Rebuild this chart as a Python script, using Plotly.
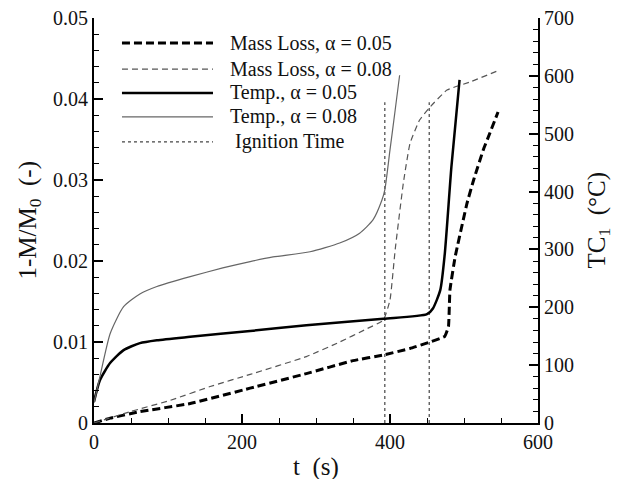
import plotly.graph_objects as go

# ---- data ----
t_temp08 = [0, 8, 22, 40, 62, 85, 130, 174, 211, 242, 292, 332, 359, 377, 389, 393, 400, 407, 413]
temp08 = [35, 80, 155, 201, 223, 236, 253, 268, 279, 287, 296, 311, 328, 351, 385, 403, 472, 541, 601]

t_temp05 = [0, 8, 22, 40, 62, 85, 130, 211, 287, 391, 450, 458, 468, 474, 483, 494]
temp05 = [37, 74, 104, 126, 138, 143, 149, 159, 169, 180, 188, 198, 230, 292, 443, 593]

t_mass08 = [0, 49, 103, 157, 211, 287, 332, 368, 391, 400, 407, 418, 427, 440, 454, 477, 508, 549]
mass08 = [0, 0.0014, 0.0028, 0.0045, 0.0060, 0.0082, 0.0100, 0.0116, 0.0127, 0.0152,
          0.0214, 0.0296, 0.0345, 0.0374, 0.0390, 0.0411, 0.0421, 0.0436]

t_mass05 = [0, 22, 62, 130, 211, 287, 350, 391, 427, 454, 474, 479, 481, 488, 504, 513, 526, 535, 546]
mass05 = [0, 0.0006, 0.0014, 0.0024, 0.0043, 0.0061, 0.0077, 0.0084, 0.0092, 0.0100,
          0.0107, 0.0119, 0.0164, 0.0205, 0.0271, 0.0300, 0.0337, 0.0358, 0.0384]

t_ignition = [393, 453]
ignition_top = 0.0396

legend_labels = ["Mass Loss, α = 0.05", "Mass Loss, α = 0.08", "Temp., α = 0.05",
                 "Temp., α = 0.08", " Ignition Time"]

FONT = "Liberation Serif"

# styles
st_mass05 = dict(color="black", width=3, dash="8px,4px")
st_mass08 = dict(color="#555555", width=1.2, dash="6px,4px")
st_temp05 = dict(color="black", width=2.5)
st_temp08 = dict(color="#666666", width=1.2)
st_ign = dict(color="#444444", width=1.2, dash="3px,3px")

fig = go.Figure()
fig.add_trace(go.Scatter(x=t_mass05, y=mass05, mode="lines", name=legend_labels[0],
                         line=dict(**st_mass05, shape="spline", smoothing=0.3), yaxis="y"))
fig.add_trace(go.Scatter(x=t_mass08, y=mass08, mode="lines", name=legend_labels[1],
                         line=dict(**st_mass08, shape="spline", smoothing=0.4), yaxis="y"))
fig.add_trace(go.Scatter(x=t_temp05, y=temp05, mode="lines", name=legend_labels[2],
                         line=dict(**st_temp05, shape="spline", smoothing=0.6), yaxis="y2"))
fig.add_trace(go.Scatter(x=t_temp08, y=temp08, mode="lines", name=legend_labels[3],
                         line=dict(**st_temp08, shape="spline", smoothing=0.6), yaxis="y2"))
for ti in t_ignition:
    fig.add_trace(go.Scatter(x=[ti, ti], y=[0, ignition_top], mode="lines",
                             name=legend_labels[4], line=st_ign, yaxis="y"))

# custom legend (long line samples as in the reference)
leg_styles = [st_mass05, st_mass08, st_temp05, st_temp08, st_ign]
leg_y = [0.938, 0.874, 0.815, 0.756, 0.694]
shapes = []
annotations = []
for lab, st, yy in zip(legend_labels, leg_styles, leg_y):
    shapes.append(dict(type="line", xref="paper", yref="paper", x0=0.063, x1=0.268,
                       y0=yy, y1=yy, line=st))
    annotations.append(dict(text=lab, xref="paper", yref="paper", x=0.302, y=yy,
                            xanchor="left", yanchor="middle", showarrow=False,
                            font=dict(family=FONT, size=20, color="#111")))

# axis titles
annotations.append(dict(text="1-M/M<sub>0</sub>\u00a0\u00a0(-)", xref="paper", yref="paper",
                        x=0, xshift=-65, y=0.5, textangle=-90, showarrow=False,
                        xanchor="center", yanchor="middle",
                        font=dict(family=FONT, size=25, color="#111")))
annotations.append(dict(text="TC<sub>1</sub>\u00a0\u00a0(°C)", xref="paper", yref="paper",
                        x=1, xshift=60, y=0.5, textangle=-90, showarrow=False,
                        xanchor="center", yanchor="middle",
                        font=dict(family=FONT, size=25, color="#111")))
annotations.append(dict(text="t\u00a0\u00a0(s)", xref="paper", yref="paper",
                        x=0.5, y=0, yshift=-44, showarrow=False,
                        xanchor="center", yanchor="middle",
                        font=dict(family=FONT, size=25, color="#111")))

tickfont = dict(family=FONT, size=20, color="#111")

axis_common = dict(ticks="inside", ticklen=9, tickwidth=2, showline=True, linecolor="black",
                   linewidth=2, showgrid=False, zeroline=False, tickfont=tickfont,
                   tickcolor="black", automargin=False, ticklabeloverflow="allow")

fig.update_layout(
    template="none",
    width=617, height=471,
    margin=dict(l=86, r=87, t=10, b=56, autoexpand=False),
    paper_bgcolor="white", plot_bgcolor="white",
    showlegend=False,
    shapes=shapes, annotations=annotations,
    xaxis=dict(range=[0, 600], dtick=200, tick0=0, **axis_common,
               minor=dict(dtick=50, ticks="inside", ticklen=5, tickwidth=1.2, tickcolor="black",
                          showgrid=False)),
    yaxis=dict(range=[0, 0.05], dtick=0.01, tick0=0, **axis_common,
               minor=dict(dtick=0.002, ticks="inside", ticklen=5, tickwidth=1.2, tickcolor="black",
                          showgrid=False)),
    yaxis2=dict(range=[0, 700], dtick=100, tick0=0, overlaying="y", side="right", **axis_common,
                minor=dict(dtick=20, ticks="inside", ticklen=5, tickwidth=1.2, tickcolor="black",
                           showgrid=False)),
)

fig.write_html("out.html")
